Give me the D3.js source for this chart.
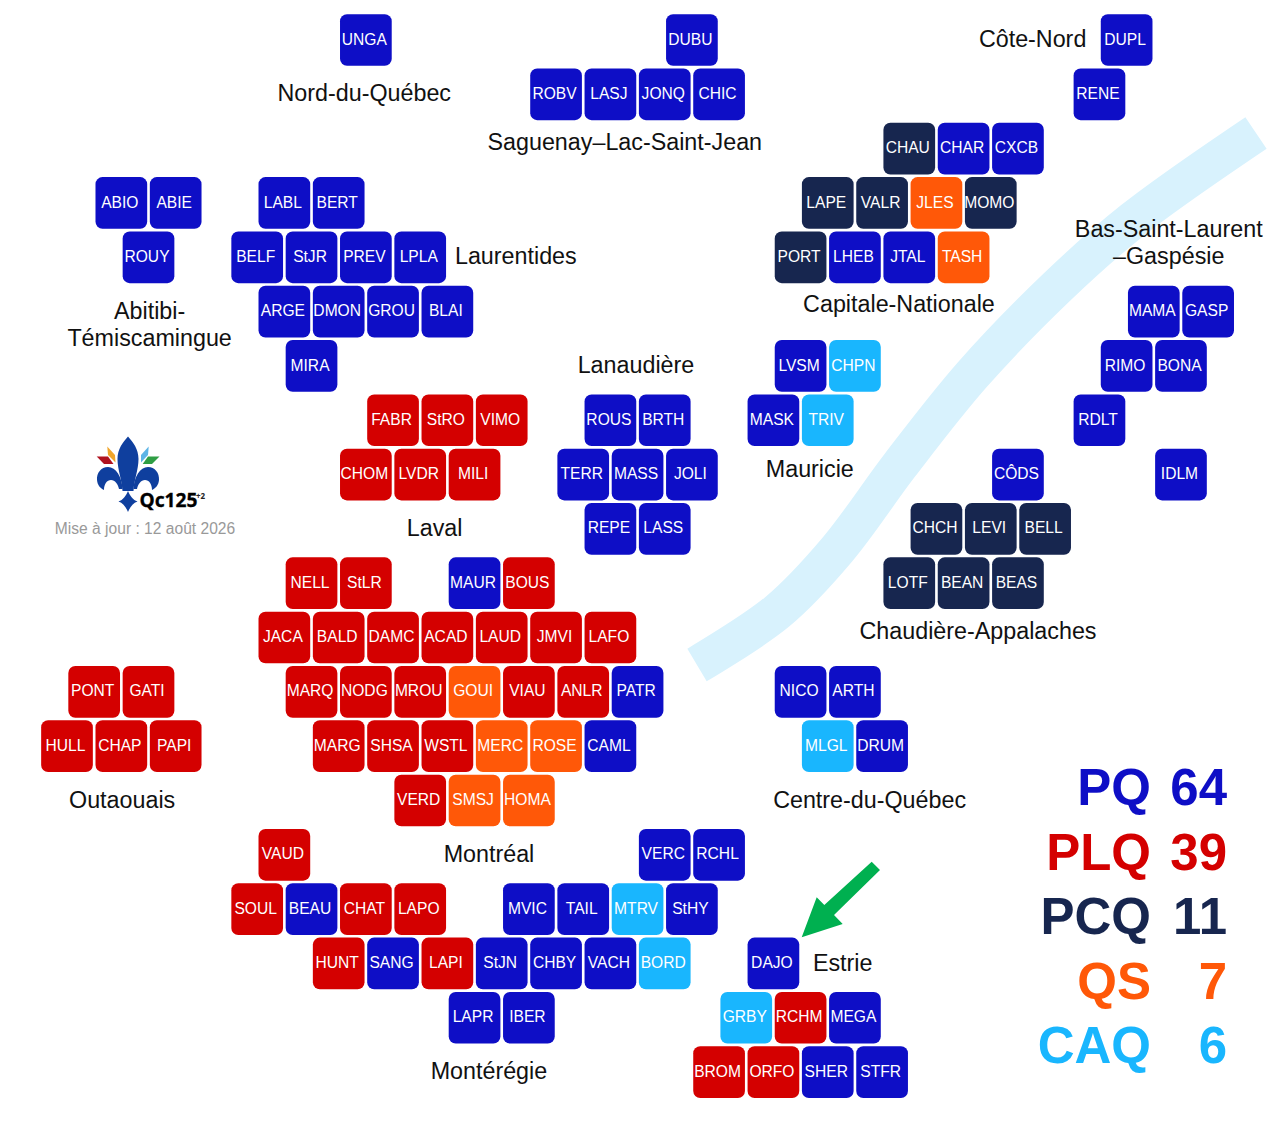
<!DOCTYPE html>
<html lang="fr">
<head>
<meta charset="utf-8">
<title>Qc125</title>
<script src="https://cdn.jsdelivr.net/npm/d3@7"></script>
<style>
  html, body { margin: 0; padding: 0; background: #fff; }
  svg { display: block; }
  text { font-family: "Liberation Sans", Arial, sans-serif; }
</style>
</head>
<body>
<div id="visData"></div>
<script>
const WIDTH = 1286;
const HEIGHT = 1125;
const TILE = 51.7;
const TILE_RADIUS = 7;

// Seats, one list per grid row. Columns are half-tile steps.
const seatCodes = [
  ["UNGA", "DUBU", "DUPL"],
  ["ROBV", "LASJ", "JONQ", "CHIC", "RENE"],
  ["CHAU", "CHAR", "CXCB"],
  ["ABIO", "ABIE", "LABL", "BERT", "LAPE", "VALR", "JLES", "MOMO"],
  ["ROUY", "BELF", "StJR", "PREV", "LPLA", "PORT", "LHEB", "JTAL", "TASH"],
  ["ARGE", "DMON", "GROU", "BLAI", "MAMA", "GASP"],
  ["MIRA", "LVSM", "CHPN", "RIMO", "BONA"],
  ["FABR", "StRO", "VIMO", "ROUS", "BRTH", "MASK", "TRIV", "RDLT"],
  ["CHOM", "LVDR", "MILI", "TERR", "MASS", "JOLI", "CÔDS", "IDLM"],
  ["REPE", "LASS", "CHCH", "LEVI", "BELL"],
  ["NELL", "StLR", "MAUR", "BOUS", "LOTF", "BEAN", "BEAS"],
  ["JACA", "BALD", "DAMC", "ACAD", "LAUD", "JMVI", "LAFO"],
  ["PONT", "GATI", "MARQ", "NODG", "MROU", "GOUI", "VIAU", "ANLR", "PATR", "NICO", "ARTH"],
  ["HULL", "CHAP", "PAPI", "MARG", "SHSA", "WSTL", "MERC", "ROSE", "CAML", "MLGL", "DRUM"],
  ["VERD", "SMSJ", "HOMA"],
  ["VAUD", "VERC", "RCHL"],
  ["SOUL", "BEAU", "CHAT", "LAPO", "MVIC", "TAIL", "MTRV", "StHY"],
  ["HUNT", "SANG", "LAPI", "StJN", "CHBY", "VACH", "BORD", "DAJO"],
  ["LAPR", "IBER", "GRBY", "RCHM", "MEGA"],
  ["BROM", "ORFO", "SHER", "STFR"]
];
const seatCols = [
  [11, 23, 39],
  [18, 20, 22, 24, 38],
  [31, 33, 35],
  [2, 4, 8, 10, 28, 30, 32, 34],
  [3, 7, 9, 11, 13, 27, 29, 31, 33],
  [8, 10, 12, 14, 40, 42],
  [9, 27, 29, 39, 41],
  [12, 14, 16, 20, 22, 26, 28, 38],
  [11, 13, 15, 19, 21, 23, 35, 41],
  [20, 22, 32, 34, 36],
  [9, 11, 15, 17, 31, 33, 35],
  [8, 10, 12, 14, 16, 18, 20],
  [1, 3, 9, 11, 13, 15, 17, 19, 21, 27, 29],
  [0, 2, 4, 10, 12, 14, 16, 18, 20, 28, 30],
  [13, 15, 17],
  [8, 22, 24],
  [7, 9, 11, 13, 17, 19, 21, 23],
  [10, 12, 14, 16, 18, 20, 22, 26],
  [15, 17, 25, 27, 29],
  [24, 26, 28, 30]
];

// Everything not listed here went to the PQ
const plqSeats = ["FABR", "StRO", "VIMO", "CHOM", "LVDR", "MILI", "NELL", "StLR", "BOUS",
  "JACA", "BALD", "DAMC", "ACAD", "LAUD", "JMVI", "LAFO", "PONT", "GATI", "HULL", "CHAP", "PAPI",
  "MARQ", "NODG", "MROU", "VIAU", "ANLR", "MARG", "SHSA", "WSTL", "VERD", "VAUD", "SOUL", "CHAT",
  "LAPO", "HUNT", "LAPI", "RCHM", "BROM", "ORFO"];
const pcqSeats = ["CHAU", "LAPE", "VALR", "MOMO", "PORT", "CHCH", "LEVI", "BELL", "LOTF", "BEAN", "BEAS"];
const qsSeats = ["JLES", "TASH", "GOUI", "MERC", "ROSE", "SMSJ", "HOMA"];
const caqSeats = ["CHPN", "TRIV", "MLGL", "MTRV", "BORD", "GRBY"];

const parties = ["PQ", "PLQ", "PCQ", "QS", "CAQ"];
const partyTotals = [64, 39, 11, 7, 6];
const partyColors = ["#0e0ec6", "#d40000", "#17264f", "#ff5808", "#19b6fe"];

// Region labels, placed in grid units
const regionLines = [
  ["Nord-du-Québec"], ["Saguenay–Lac-Saint-Jean"], ["Côte-Nord"], ["Abitibi-", "Témiscamingue"],
  ["Laurentides"], ["Capitale-Nationale"], ["Bas-Saint-Laurent", "–Gaspésie"], ["Lanaudière"],
  ["Mauricie"], ["Laval"], ["Chaudière-Appalaches"], ["Outaouais"], ["Montréal"],
  ["Centre-du-Québec"], ["Montérégie"], ["Estrie"]
];
const regionCols = [10.94, 20.53, 35.54, 3.04, 16.52, 30.62, 40.55, 20.94, 27.34, 13.53, 33.53, 2.03, 15.53, 29.54, 15.53, 28.55];
const regionRows = [1, 1.9, 0, 5, 4, 4.88, 3.5, 6, 7.91, 9, 10.89, 14.01, 15.01, 14.01, 19, 17.01];

const RIVER = [[697, 665], [777, 612], [837, 550], [900, 465], [972, 375], [1057, 287], [1133, 220], [1256, 133]];
const ARROW = [[801.7, 937.3], [816.7, 897.3], [824.3, 905], [871.7, 861.7], [880, 870], [834, 915], [842.7, 924]];

const xScale = d3.scaleLinear().domain([0, 42]).range([67, 67 + 42 * 27.17]);
const yScale = d3.scaleLinear().domain([0, 19]).range([40, 40 + 19 * 54.32]);
const partyY = d3.scalePoint().domain(parties).range([805, 1063]);
const partyColor = d3.scaleOrdinal().domain(parties).range(partyColors);

function seatParty(code) {
  if (plqSeats.includes(code)) return "PLQ";
  if (pcqSeats.includes(code)) return "PCQ";
  if (qsSeats.includes(code)) return "QS";
  if (caqSeats.includes(code)) return "CAQ";
  return "PQ";
}

const svg = d3.select("#visData")
  .append("svg")
  .attr("width", WIDTH)
  .attr("height", HEIGHT);

// River
svg.append("path")
  .attr("d", d3.line().curve(d3.curveCatmullRom)(RIVER))
  .attr("fill", "none")
  .attr("stroke", "#d8f2fd")
  .attr("stroke-width", 38);

// Tiles
const seats = seatCodes.flatMap((row, r) => row.map((code, i) => ({code: code, col: seatCols[r][i], row: r})));

const tiles = svg.append("g").attr("id", "tiles")
  .selectAll("g")
  .data(seats)
  .enter()
  .append("g")
  .attr("transform", (d) => "translate(" + xScale(d.col) + "," + yScale(d.row) + ")");

tiles.append("rect")
  .attr("x", -TILE / 2)
  .attr("y", -TILE / 2)
  .attr("width", TILE)
  .attr("height", TILE)
  .attr("rx", TILE_RADIUS)
  .attr("fill", (d) => partyColor(seatParty(d.code)));

tiles.append("text")
  .text((d) => d.code)
  .attr("x", -1.5)
  .attr("y", 4.6)
  .attr("text-anchor", "middle")
  .attr("fill", "#fff")
  .style("font-size", "15.6px");

// Region labels
const regions = svg.append("g").attr("id", "regions")
  .selectAll("text")
  .data(regionLines)
  .enter()
  .append("text")
  .attr("text-anchor", "middle")
  .attr("fill", "#111")
  .style("font-size", "23.3px");

regions.selectAll("tspan")
  .data((lines, i) => lines.map((line, j) => ({line: line, i: i, j: j})))
  .enter()
  .append("tspan")
  .text((d) => d.line)
  .attr("x", (d) => xScale(regionCols[d.i]))
  .attr("y", (d) => yScale(regionRows[d.i]) + 7 + d.j * 27);

// Arrow
svg.append("polygon")
  .attr("points", ARROW.map((p) => p.join(",")).join(" "))
  .attr("fill", "#00b050");

// Totals
const totals = svg.append("g").attr("id", "totals");

totals.selectAll("text.name")
  .data(parties)
  .enter()
  .append("text")
  .attr("class", "name")
  .text((d) => d)
  .attr("x", 1151)
  .attr("y", (d) => partyY(d))
  .attr("text-anchor", "end")
  .attr("fill", (d) => partyColor(d))
  .style("font-size", "51px")
  .style("font-weight", "bold");

totals.selectAll("text.total")
  .data(parties)
  .enter()
  .append("text")
  .attr("class", "total")
  .text((d, i) => partyTotals[i])
  .attr("x", 1227)
  .attr("y", (d) => partyY(d))
  .attr("text-anchor", "end")
  .attr("fill", (d) => partyColor(d))
  .style("font-size", "51px")
  .style("font-weight", "bold");

// Logo
const logo = svg.append("g").attr("id", "logo");

logo.append("path")
  .attr("d", "M128 436.5 C133 442 138.5 449 138.5 459 C138.5 470 134 480 133.5 491 L122.5 491 C122 480 117.5 470 117.5 459 C117.5 449 123 442 128 436.5 Z")
  .attr("fill", "#0f3f9e");
logo.append("path")
  .attr("d", "M122.5 489 C122 477 116 467 108 467 C101 467 96.5 473 97 480 C97.5 485 100 488 104 490 C104 484 107 480 111 480 C115 480 118 484 119 489 Z")
  .attr("fill", "#0f3f9e");
logo.append("path")
  .attr("d", "M133.5 489 C134 477 140 467 148 467 C155 467 159.5 473 159 480 C158.5 485 156 488 152 490 C152 484 149 480 145 480 C141 480 138 484 137 489 Z")
  .attr("fill", "#0f3f9e");
logo.append("path")
  .attr("d", "M128 491 C130 496 133 500 137.5 501.5 C133 503 130 507 128 512 C126 507 123 503 118.5 501.5 C123 500 126 496 128 491 Z")
  .attr("fill", "#0f3f9e");
logo.append("polygon").attr("points", "107.3,446.5 115,455 115.5,462.5 108,455").attr("fill", "#f0a52a");
logo.append("polygon").attr("points", "96.7,456.5 108,456.5 113.5,464 104,464").attr("fill", "#b0121f");
logo.append("polygon").attr("points", "148.7,446.5 141,455 141,462.5 148,455").attr("fill", "#5cb4e6");
logo.append("polygon").attr("points", "159.5,456.5 148,456.5 142.7,464 152,464").attr("fill", "#2f9e44");

logo.append("text")
  .text("Qc125")
  .attr("x", 139.5)
  .attr("y", 507)
  .attr("fill", "#000")
  .attr("stroke", "#000")
  .attr("stroke-width", 0.3)
  .style("font-family", "'Noto Sans', sans-serif")
  .style("font-size", "19.2px")
  .style("font-weight", "bold");
logo.append("text")
  .text("+2")
  .attr("x", 196)
  .attr("y", 499)
  .attr("fill", "#222")
  .style("font-family", "'Noto Sans', sans-serif")
  .style("font-size", "8px")
  .style("font-weight", "bold");

svg.append("text")
  .text("Mise à jour : 12 août 2026")
  .attr("x", 145)
  .attr("y", 533.5)
  .attr("text-anchor", "middle")
  .attr("fill", "#999")
  .style("font-size", "15.6px");
</script>
</body>
</html>
